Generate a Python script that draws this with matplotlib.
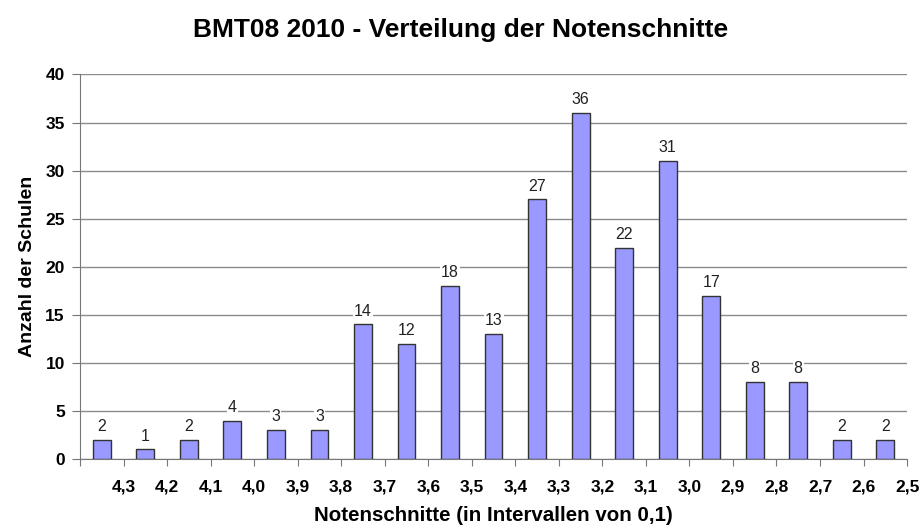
import numpy as np
import matplotlib.pyplot as plt

plt.rcParams['font.family'] = ['Liberation Sans', 'DejaVu Sans']

# Anzahl der Schulen je Notenschnitt-Intervall
counts = [2, 1, 2, 4, 3, 3, 14, 12, 18, 13, 27, 36, 22, 31, 17, 8, 8, 2, 2]
tick_labels = ['', '4,3', '4,2', '4,1', '4,0', '3,9', '3,8', '3,7', '3,6', '3,5',
               '3,4', '3,3', '3,2', '3,1', '3,0', '2,9', '2,8', '2,7', '2,6', '2,5']

fig = plt.figure(figsize=(9.22, 5.26), dpi=100)
ax = fig.add_axes([0.0868, 0.1274, 0.897, 0.731])

x = np.arange(len(counts)) + 0.5
bars = ax.bar(x, counts, width=0.41, color='#9999ff', edgecolor='#333333',
              linewidth=1.0, zorder=3)
for xi, c in zip(x, counts):
    ax.text(xi, c + 0.6, str(c), ha='center', va='bottom', fontsize=11.5,
            color='#222222', zorder=4,
            bbox=dict(facecolor='white', edgecolor='none', pad=0.8))

ax.set_xlim(0, len(counts))
ax.set_ylim(0, 40)
ax.set_yticks(range(0, 41, 5))
ax.set_xticks(range(len(counts) + 1))
ax.set_xticklabels(tick_labels, fontweight='bold', fontsize=12.5)
ax.tick_params(axis='x', direction='out', length=5, pad=10, color='#777777')
ax.tick_params(axis='y', direction='out', length=6, pad=5, color='#777777')
for lab in ax.get_yticklabels():
    lab.set_fontweight('bold')
    lab.set_fontsize(12.5)

ax.grid(axis='y', color='#8c8c8c', linewidth=1.0, zorder=0)
ax.set_axisbelow(True)
for s in ['top', 'right']:
    ax.spines[s].set_visible(False)
ax.spines['left'].set_color('#777777')
ax.spines['bottom'].set_color('#777777')

ax.set_xlabel('Notenschnitte (in Intervallen von 0,1)', fontweight='bold',
              fontsize=14.8, labelpad=8)
ax.set_ylabel('Anzahl der Schulen', fontweight='bold', fontsize=14, labelpad=7)
fig.suptitle('BMT08 2010 - Verteilung der Notenschnitte', fontweight='bold',
             fontsize=19, y=0.965)

plt.savefig('out.png', dpi=100)
